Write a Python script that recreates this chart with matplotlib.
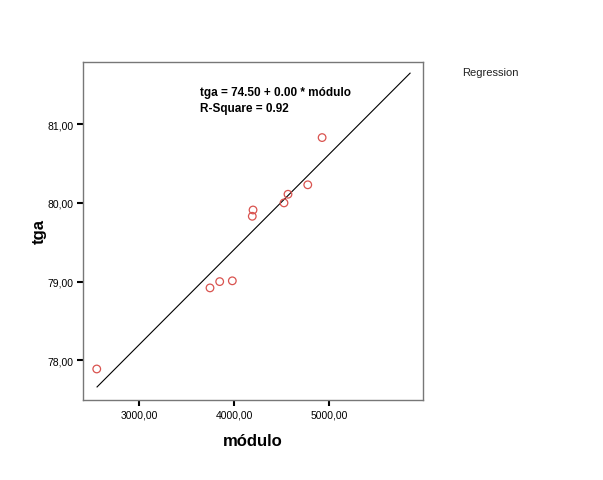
import matplotlib
matplotlib.use("Agg")
import matplotlib.pyplot as plt

# data
modulo = [2552, 3744, 3846, 3979, 4189, 4197, 4523, 4565, 4773, 4924]
tga = [77.89, 78.92, 79.00, 79.01, 79.83, 79.91, 80.00, 80.11, 80.23, 80.83]

fit_intercept = 74.57
fit_slope = 0.00121
fit_x = [2555, 5850]

xticks = [3000, 4000, 5000]
xtick_labels = ["3000,00", "4000,00", "5000,00"]
yticks = [78, 79, 80, 81]
ytick_labels = ["78,00", "79,00", "80,00", "81,00"]

plt.rcParams['font.family'] = ['Liberation Sans', 'DejaVu Sans']

fig = plt.figure(figsize=(6.03, 4.81), dpi=100)
ax = fig.add_axes([0.1376, 0.167, 0.5639, 0.702])

fit_y = [fit_intercept + fit_slope * x for x in fit_x]
ax.plot(fit_x, fit_y, color="black", lw=0.8)
ax.scatter(modulo, tga, s=30, facecolors="none", edgecolors="#d9534f", linewidths=0.9, zorder=3)

ax.set_xlim(2407, 5986)
ax.set_ylim(77.50, 81.79)
ax.set_xticks(xticks)
ax.set_xticklabels(xtick_labels, fontsize=7.5)
ax.set_yticks(yticks)
ax.set_yticklabels(ytick_labels, fontsize=7.5)
ax.tick_params(direction="out", length=4, width=1.5, color="black", pad=3)

for s in ax.spines.values():
    s.set_color("#777777")
    s.set_linewidth(1.0)

ax.set_xlabel("módulo", fontsize=12, fontweight="heavy", labelpad=10)
ax.set_ylabel("tga", fontsize=12, fontweight="heavy", labelpad=0)

ax.text(0.345, 0.93, "tga = 74.50 + 0.00 * módulo\nR-Square = 0.92", transform=ax.transAxes,
        fontsize=8.5, fontweight="bold", va="top", ha="left", linespacing=1.45)

fig.text(0.766, 0.842, "Regression", fontsize=8, color="#222222")

fig.savefig("out.png", dpi=100)
